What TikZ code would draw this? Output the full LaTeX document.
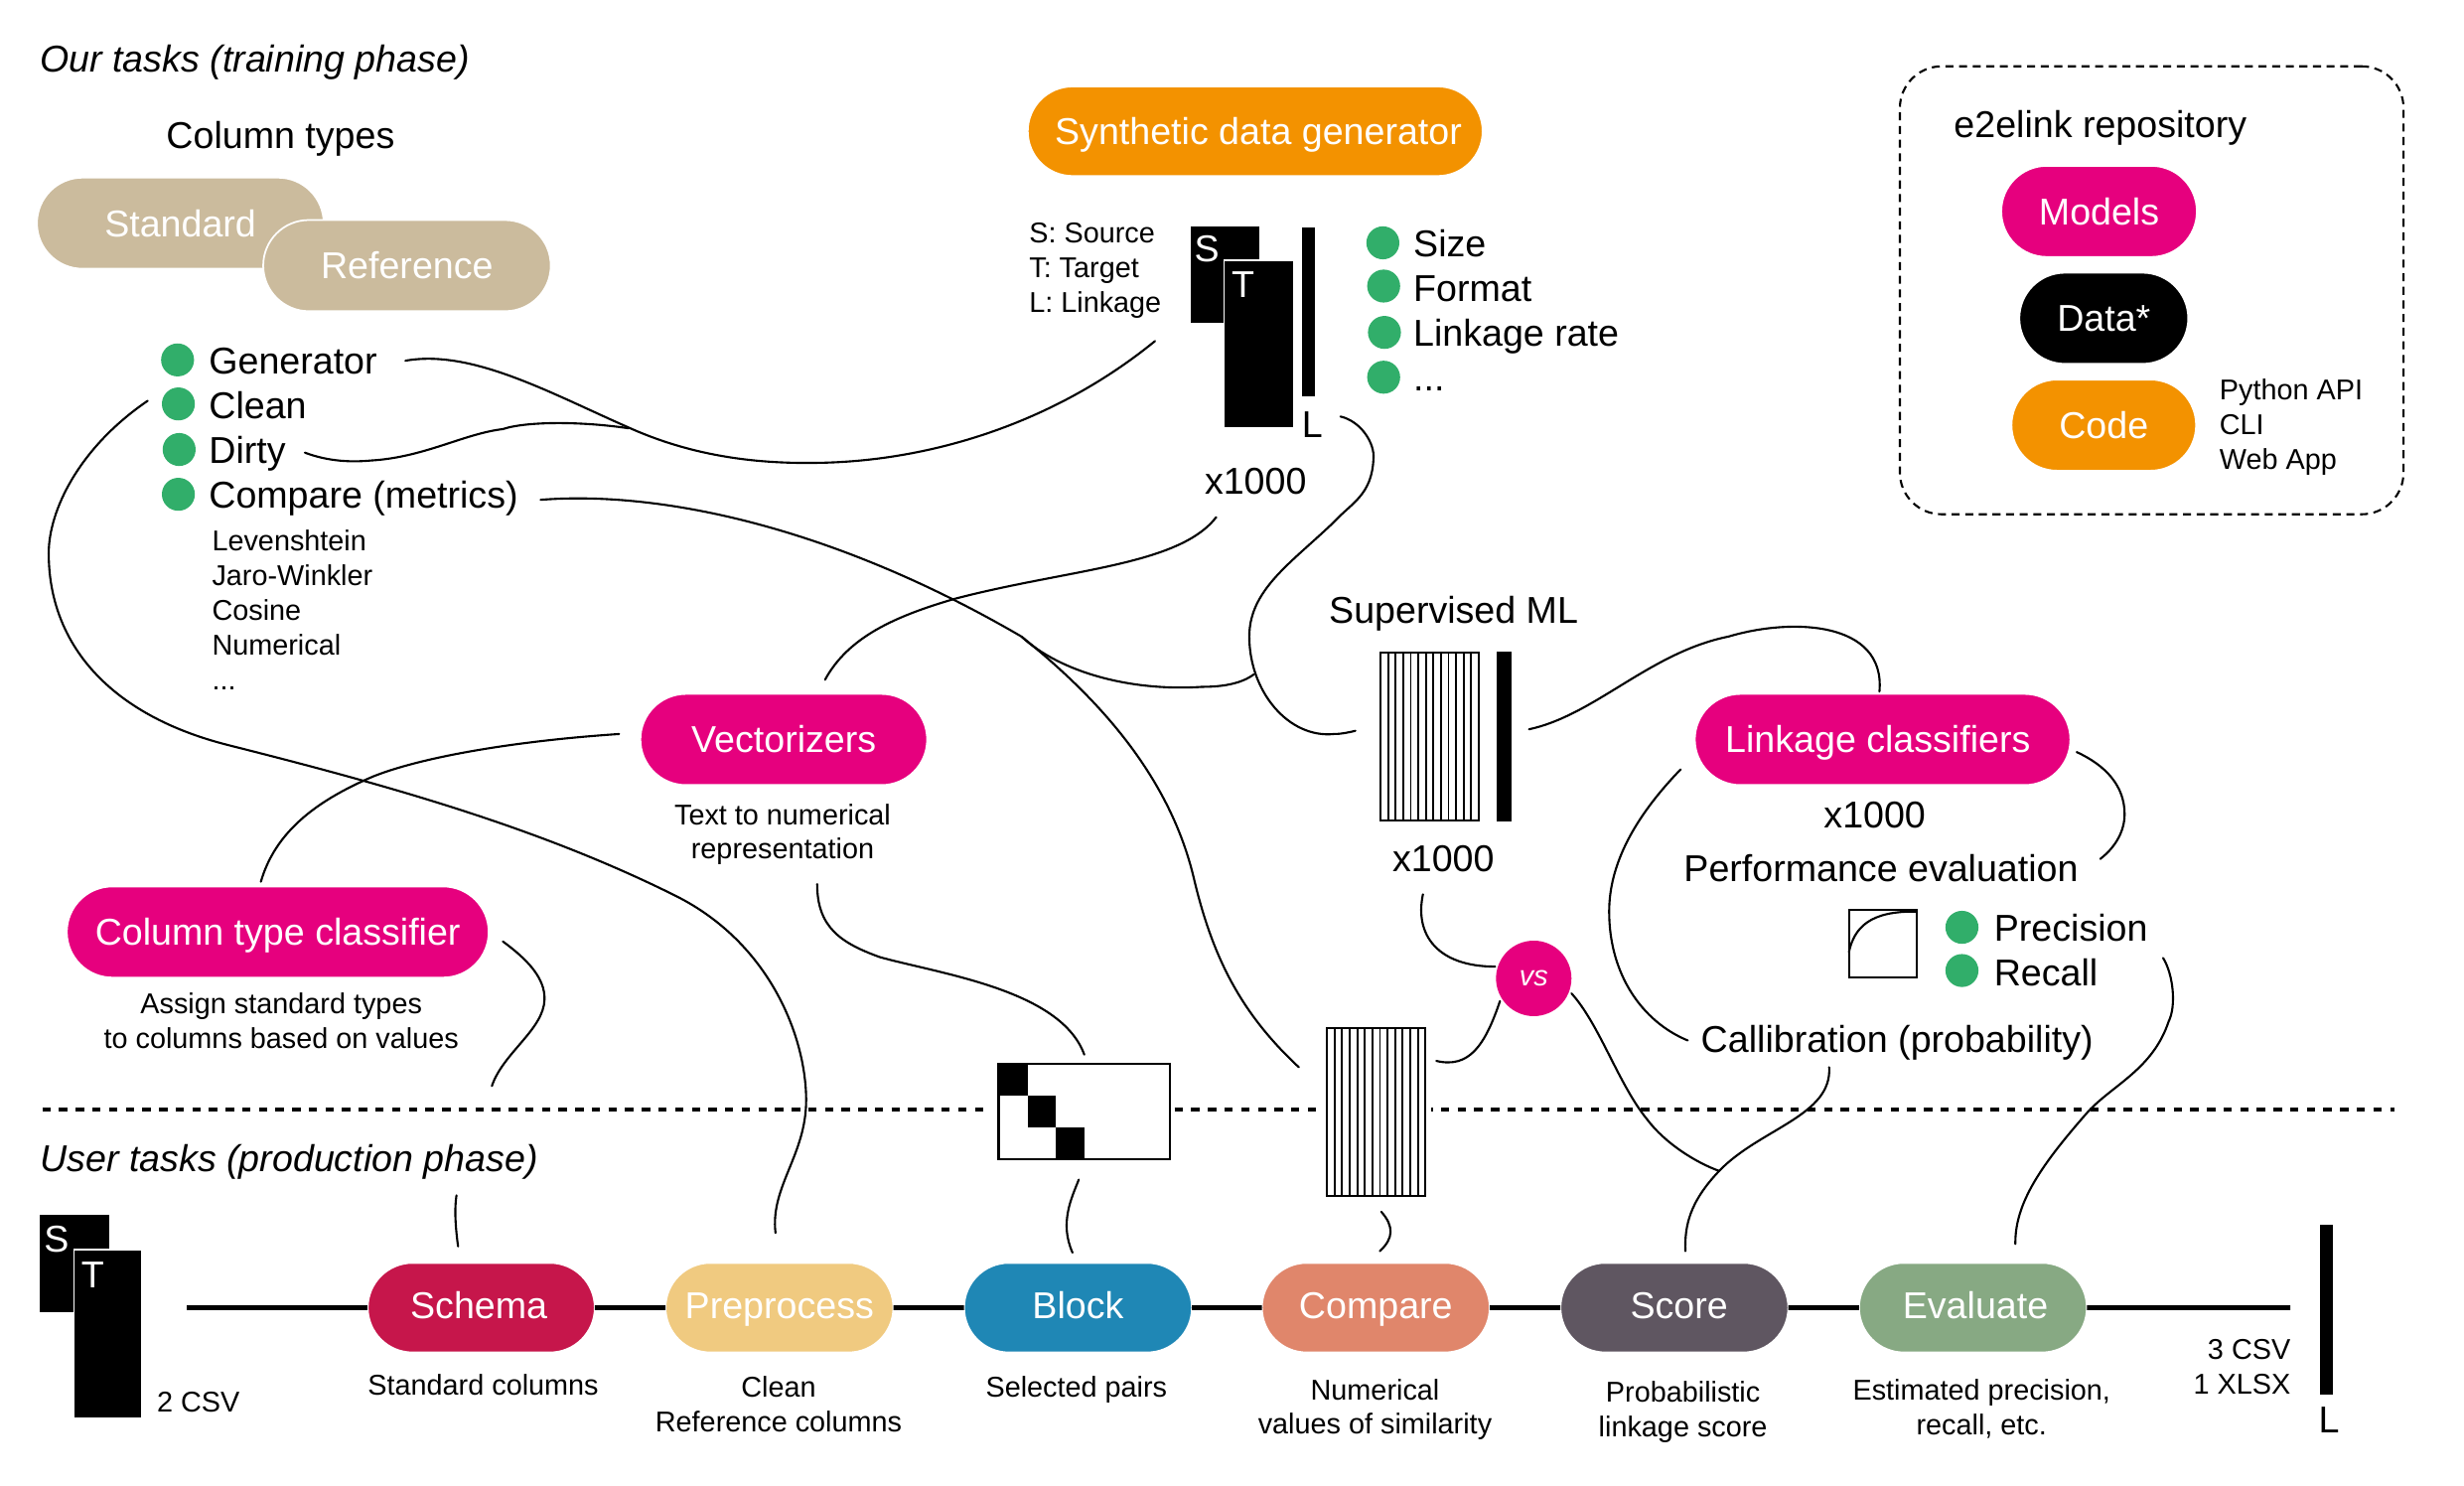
\documentclass[tikz,border=0pt]{standalone}
\usepackage{fontspec}
\setmainfont{Liberation Sans}
\usetikzlibrary{shapes.misc}
\definecolor{mag}{HTML}{E6007E}
\definecolor{org}{HTML}{F39200}
\definecolor{tan1}{HTML}{CBBB9D}
\definecolor{grn}{HTML}{31AE6A}
\definecolor{cSchema}{HTML}{C6164B}
\definecolor{cPre}{HTML}{F0CA80}
\definecolor{cBlock}{HTML}{1F87B5}
\definecolor{cComp}{HTML}{E0866B}
\definecolor{cScore}{HTML}{5F5661}
\definecolor{cEval}{HTML}{87A983}
\tikzset{
  x=0.015823cm,y=-0.015823cm,
  pill/.style={rounded rectangle,draw=white,line width=0.5pt,text=white,font=\fontsize{10.7}{13}\selectfont,inner sep=0pt,outer sep=0pt,text height=7.66pt,text depth=0pt},
  big/.style={font=\fontsize{10.7}{13}\selectfont,inner sep=0pt,text height=7.66pt,text depth=0pt},
  small/.style={font=\fontsize{8.2}{9.87}\selectfont,inner sep=0pt,text height=5.87pt,text depth=0pt},
  ital/.style={font=\fontsize{10.7}{13}\selectfont\itshape,inner sep=0pt,text height=7.66pt,text depth=0pt},
  dot/.style={circle,fill=grn,minimum size=0.332cm,inner sep=0pt},
  conn/.style={line width=0.6pt,line cap=round},
  mainline/.style={line width=1.35pt},
  sheet/.style={fill=black,draw=white,line width=0.4pt},
  bar/.style={fill=black},
  letter/.style={text=white,font=\fontsize{10.7}{13}\selectfont,inner sep=0pt,text height=7.66pt,text depth=0pt}
}
\newcommand{\pillat}[7]{\node[pill,fill=#2,minimum width=#5*0.015823cm-#3*0.015823cm,minimum height=#6*0.015823cm-#4*0.015823cm] (#1) at ({(#3+#5)/2},{(#4+#6)/2}) {#7};}
\begin{document}
\begin{tikzpicture}
\useasboundingbox (0,0) rectangle (1568,945);
% phase divider
\coordinate (divL) at (27,706); \coordinate (divR) at (1524,706);
\draw[line width=1.3pt,dash pattern=on 2.4pt off 2.37pt] (divL) -- (divR);
% titles
\node[ital,anchor=west] (t1) at (25,37.5) {Our tasks (training phase)};
\node[ital,anchor=west] (t2) at (25,737) {User tasks (production phase)};
\node[big] (coltypes) at (178.5,86) {Column types};
% top pills
\pillat{synth}{org}{654}{55}{943.5}{112}{\kern1.8pt Synthetic data generator}
\pillat{standard}{tan1}{23.5}{113}{206}{171}{Standard}
\pillat{reference}{tan1}{167.5}{140}{350.5}{198}{Reference}
\pillat{vect}{mag}{407.5}{441.5}{590}{499.5}{Vectorizers}
\pillat{ctc}{mag}{42.5}{564}{311}{622}{Column type classifier}
\pillat{linkc}{mag}{1078.5}{441.5}{1317.5}{499.5}{Linkage classifiers\kern2.7pt}
% repository
\node[draw,line width=0.6pt,dash pattern=on 2.3pt off 1.6pt,rounded corners=0.42cm,minimum width=320.5*0.015823cm,minimum height=285*0.015823cm,inner sep=0pt] (repo) at (1369.25,184.7) {};
\node[big,anchor=west] (repotitle) at (1243,79) {e2elink repository};
\pillat{models}{mag}{1273.5}{105.5}{1398}{163.5}{Models}
\pillat{data}{black}{1285}{173.5}{1392.5}{231.5}{Data*}
\pillat{code}{org}{1280}{241.5}{1397.5}{299.5}{Code}
\node[small,anchor=west] (l1) at (1412,248) {Python API};
\node[small,anchor=west] (l2) at (1412,270) {CLI};
\node[small,anchor=west] (l3) at (1412,292) {Web App};
% legend
\node[small,anchor=west] (s1) at (654.5,148) {S: Source};
\node[small,anchor=west] (s2) at (654.5,170) {T: Target};
\node[small,anchor=west] (s3) at (654.5,192) {L: Linkage};
% top sheets
\filldraw[bar] (758,144.5) rectangle (801,205);
\filldraw[sheet] (779,165.5) rectangle (823,272.5);
\filldraw[bar] (829,145) rectangle (836.5,252);
\node[letter] (sS) at (768,158) {S};
\node[letter] (sT) at (791,181) {T};
\node[big] (sL) at (835,270) {L};
% bullets left
\node[dot] (b1) at (113,229) {};
\node[dot] (b2) at (113.5,257) {};
\node[dot] (b3) at (114,286) {};
\node[dot] (b4) at (113.5,314.5) {};
\node[big,anchor=west] (g1) at (132.5,229.5) {Generator};
\node[big,anchor=west] (g2) at (132.5,258) {Clean};
\node[big,anchor=west] (g3) at (132.5,286.5) {Dirty};
\node[big,anchor=west] (g4) at (132.5,315) {Compare (metrics)};
\node[small,anchor=west] (m1) at (134.5,344) {Levenshtein};
\node[small,anchor=west] (m2) at (134.5,366) {Jaro-Winkler};
\node[small,anchor=west] (m3) at (134.5,388) {Cosine};
\node[small,anchor=west] (m4) at (134.5,410) {Numerical};
\node[small,anchor=west] (m5) at (134.5,432.5) {...};
% bullets right
\node[dot] (r1) at (880,154.5) {};
\node[dot] (r2) at (880.5,182) {};
\node[dot] (r3) at (881,211.5) {};
\node[dot] (r4) at (880.5,240) {};
\node[big,anchor=west] (f1) at (899,155) {Size};
\node[big,anchor=west] (f2) at (899,183) {Format};
\node[big,anchor=west] (f3) at (899,212) {Linkage rate};
\node[big,anchor=west] (f4) at (899,240) {...};
\node[big] (x1) at (799,306) {x1000};
\node[big] (sup) at (925,388) {Supervised ML};
\node[big] (x2) at (918.5,546) {x1000};
\node[big] (x3) at (1193,518) {x1000};
\node[big] (perf) at (1197,552.5) {Performance evaluation};
\node[big,anchor=west] (cal) at (1082,661) {Callibration (probability)};
\node[small,align=center] (vt) at (498,540) {Text to numerical\\representation};
\node[small,align=center] (ct) at (179,660.5) {Assign standard types\\to columns based on values};
% supervised matrix
\filldraw[fill=white,draw=black,line width=0.6pt] (878.5,415) rectangle (941,522);
\foreach \i in {1,...,12} \draw[line width=0.55pt] ({878.5+\i*62.5/13},415) -- ({878.5+\i*62.5/13},522);
\filldraw[bar] (953,415) rectangle (961.5,522);
% PR box
\draw[line width=0.6pt] (1176.5,579) rectangle (1219.5,622);
\draw[line width=0.6pt] (1176.5,606) .. controls (1180,590) and (1190,579.5) .. (1219.5,580);
\node[dot] (p1) at (1248.5,590) {};
\node[dot] (p2) at (1248.5,617.5) {};
\node[big,anchor=west] (pt1) at (1268.5,590) {Precision};
\node[big,anchor=west] (pt2) at (1268.5,618.5) {Recall};
% compare matrix
\filldraw[fill=white,draw=white,line width=0pt] (841.5,650) rectangle (910.5,765);
\filldraw[fill=white,draw=black,line width=0.6pt] (844.5,654) rectangle (907,761);
\foreach \i in {1,...,12} \draw[line width=0.55pt] ({844.5+\i*62.5/13},654) -- ({844.5+\i*62.5/13},761);
% block matrix
\filldraw[fill=white,draw=white,line width=0pt] (631,672) rectangle (745,742);
\filldraw[fill=white,draw=black,line width=0.6pt] (635.5,677) rectangle (744.5,737.5);
\fill (635.5,677) rectangle (654,697);
\fill (654,697) rectangle (672,717);
\fill (672,717) rectangle (690,737.5);
% vs
\node[circle,fill=mag,minimum size=48*0.015823cm,inner sep=0pt,text=white,font=\fontsize{8.2}{10}\selectfont\itshape] (vs) at (976,622.5) {vs};
% production row
\begin{scope}[pill/.append style={text depth=1.6pt}]
\pillat{schema}{cSchema}{234}{803.5}{378.5}{860.5}{Schema\kern1.4pt}
\pillat{pre}{cPre}{423.5}{803.5}{568.5}{860.5}{Preprocess}
\pillat{block}{cBlock}{613.5}{803.5}{758.5}{860.5}{Block}
\pillat{compare}{cComp}{803}{803.5}{948}{860.5}{Compare}
\pillat{score}{cScore}{993}{803.5}{1138}{860.5}{\kern2.7pt Score}
\pillat{evaluate}{cEval}{1183}{803.5}{1328}{860.5}{\kern1.4pt Evaluate}
\end{scope}
\coordinate (lineS) at (119,832); \coordinate (lineE) at (1457.5,832);
\draw[mainline] (lineS) -- (schema);
\draw[mainline] (schema) -- (pre);
\draw[mainline] (pre) -- (block);
\draw[mainline] (block) -- (compare);
\draw[mainline] (compare) -- (score);
\draw[mainline] (score) -- (evaluate);
\draw[mainline] (evaluate) -- (lineE);
% bottom sheets
\filldraw[bar] (25.5,773.5) rectangle (69,834.5);
\filldraw[sheet] (47,795) rectangle (90.5,902);
\filldraw[bar] (1476.5,780) rectangle (1484,887);
\node[letter] (bS) at (36,788) {S};
\node[letter] (bT) at (59,811) {T};
\node[big] (bL) at (1482,903) {L};
\node[small,anchor=west] (csv2) at (99.5,892) {2 CSV};
\node[small,anchor=east] (csv3) at (1458,858.5) {3 CSV};
\node[small,anchor=east] (xlsx) at (1458,880.5) {1 XLSX};
\node[small] (d1) at (307.5,881) {Standard columns};
\node[small,align=center] (d2) at (495.5,904.5) {Clean\\Reference columns};
\node[small] (d3) at (685,882.5) {Selected pairs};
\node[small,align=center] (d4) at (875,906) {Numerical\\values of similarity};
\node[small,align=center] (d5) at (1071,907.5) {Probabilistic\\linkage score};
\node[small,align=center] (d6) at (1261,906.5) {Estimated precision,\\recall, etc.};
% connector ends
\coordinate (a1) at (258,229.5); \coordinate (a2) at (735,217);
\coordinate (b1e) at (194,288); \coordinate (b2e) at (400,272.5);
\coordinate (c1) at (344,318); \coordinate (c2) at (826.5,679); \coordinate (cj) at (650,405);
\coordinate (d1e) at (798,429);
\coordinate (e1) at (853,265); \coordinate (e2) at (862.5,465);
\coordinate (f1e) at (774,329); \coordinate (f2e) at (525,432.5);
\coordinate (g1e) at (973,464); \coordinate (g2e) at (1196,440);
\coordinate (h1) at (394,467); \coordinate (h2) at (166,561);
\coordinate (i1) at (94,255); \coordinate (i2) at (493.5,784.5);
\coordinate (j1) at (520,562.5); \coordinate (j2) at (690,671);
\coordinate (k1) at (320,599); \coordinate (k2) at (313,691);
\coordinate (l1e) at (290.5,760.5); \coordinate (l2e) at (291.5,793);
\coordinate (n1) at (686.5,750.5); \coordinate (n2) at (682.5,797);
\coordinate (o1) at (879,771); \coordinate (o2) at (878,796);
\coordinate (q1) at (905.5,569); \coordinate (q2) at (951.5,615);
\coordinate (u1) at (914,675); \coordinate (u2) at (954.5,637);
\coordinate (v1) at (1000,632); \coordinate (v2) at (1094,745);
\coordinate (w1) at (1164,679); \coordinate (w2) at (1072.5,796);
\coordinate (y1) at (1376.5,609.5); \coordinate (y2) at (1282.5,791.5);
\coordinate (z1) at (1321.5,478.5); \coordinate (z2) at (1336.5,546.5);
\coordinate (zz1) at (1069.5,489.5); \coordinate (zz2) at (1074,662);
% connectors
\draw[conn] (a1) .. controls (300,222) and (350,250) .. (400,272) .. controls (440,290) and (480,295) .. (518,294.5) .. controls (590,294) and (670,270) .. (a2);
\draw[conn] (b1e) .. controls (210,294) and (225,294) .. (236,293) .. controls (270,291) and (295,276) .. (320,273) .. controls (335,268) and (370,268) .. (b2e);
\draw[conn] (c1) .. controls (420,312) and (530,335) .. (cj) .. controls (700,445) and (745,495) .. (760,560) .. controls (772,610) and (790,645) .. (c2);
\draw[conn] (cj) .. controls (675,428) and (720,440) .. (765,437) .. controls (778,437) and (790,435) .. (d1e);
\draw[conn] (e1) .. controls (866,268) and (875,282) .. (874,292) .. controls (873,315) and (860,320) .. (849,332) .. controls (822,358) and (795,375) .. (795,405) .. controls (795,440) and (820,470) .. (849,467) .. controls (854,467) and (858,466) .. (e2);
\draw[conn] (f1e) .. controls (750,360) and (680,362) .. (607.5,381) .. controls (570,392) and (540,405) .. (f2e);
\draw[conn] (g1e) .. controls (1015,455) and (1050,415) .. (1100,405) .. controls (1140,393) and (1200,395) .. (g2e);
\draw[conn] (h1) .. controls (320,472) and (265,483) .. (237.5,494) .. controls (200,510) and (175,530) .. (h2);
\draw[conn] (i1) .. controls (50,285) and (31,325) .. (31,352) .. controls (31,410) and (70,455) .. (145,474) .. controls (240,498) and (340,525) .. (430,570) .. controls (490,600) and (513,660) .. (513,700) .. controls (513,735) and (490,755) .. (i2);
\draw[conn] (j1) .. controls (520,590) and (535,600) .. (560,609) .. controls (600,620) and (675,630) .. (j2);
\draw[conn] (k1) .. controls (335,610) and (347,622) .. (346.5,636) .. controls (346,655) and (320,670) .. (k2);
\draw[conn] (l1e) .. controls (289,770) and (290,782) .. (l2e);
\draw[conn] (n1) .. controls (682,762) and (674,778) .. (n2);
\draw[conn] (o1) .. controls (887,780) and (887,788) .. (o2);
\draw[conn] (q1) .. controls (900,595) and (915,615) .. (q2);
\draw[conn] (u1) .. controls (935,680) and (945,665) .. (u2);
\draw[conn] (v1) .. controls (1018,652) and (1030,690) .. (1048,712) .. controls (1060,728) and (1080,740) .. (v2);
\draw[conn] (w1) .. controls (1166,710) and (1120,718) .. (1094,745) .. controls (1075,765) and (1072,780) .. (w2);
\draw[conn] (y1) .. controls (1383,620) and (1385,640) .. (1380,650) .. controls (1370,680) and (1345,690) .. (1329,707) .. controls (1300,740) and (1282,765) .. (y2);
\draw[conn] (z1) .. controls (1340,487) and (1352,500) .. (1352,518) .. controls (1352,530) and (1345,540) .. (z2);
\draw[conn] (zz1) .. controls (1040,520) and (1024,550) .. (1024,580) .. controls (1024,620) and (1045,650) .. (zz2);
\end{tikzpicture}
\end{document}
